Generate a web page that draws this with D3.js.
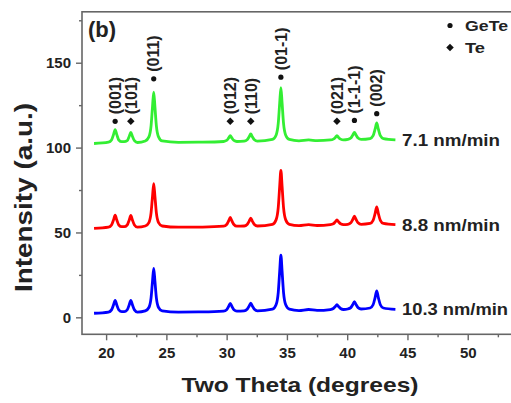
<!DOCTYPE html>
<html>
<head>
<meta charset="utf-8">
<script src="https://cdn.jsdelivr.net/npm/d3@7"></script>
<style>
  body { margin: 0; background: #fff; }
  text { font-family: "Liberation Sans", Arial, sans-serif; font-weight: bold; fill: #222; }
</style>
</head>
<body>
<svg id="chart" width="511" height="403"></svg>
<script>
// sampled 2-theta positions (shared by the three scans)
const twoTheta = [
  19.0, 20.2, 20.45, 20.62, 20.75, 20.88, 21.05, 21.3,
  21.5, 21.75, 21.92, 22.05, 22.18, 22.35, 22.6,
  23.25, 23.55, 23.73, 23.85, 23.95, 24.05, 24.17, 24.35, 24.65,
  26.0, 28.0,
  29.75, 30.0, 30.17, 30.3, 30.43, 30.6, 30.85,
  31.45, 31.7, 31.87, 32.0, 32.13, 32.3, 32.55,
  33.8, 34.1, 34.28, 34.4, 34.5, 34.6, 34.72, 34.9, 35.2,
  36.0, 36.8, 37.5,
  38.6, 38.85, 39.02, 39.15, 39.28, 39.45, 39.7,
  40.05, 40.3, 40.47, 40.6, 40.73, 40.9, 41.15,
  41.9, 42.15, 42.32, 42.45, 42.58, 42.75, 43.0,
  44.0
];

const rate71 = [
  102.4, 103.2, 104.5, 107.8, 110.6, 107.8, 104.5, 103.5,
  103.5, 104.1, 106.7, 109.0, 106.7, 104.1, 103.0,
  103.9, 106.3, 112.8, 124.1, 132.7, 124.1, 112.8, 106.3, 103.9,
  103.1, 103.2,
  103.6, 104.2, 105.7, 107.0, 105.7, 104.2, 103.6,
  103.8, 104.6, 106.4, 108.0, 106.4, 104.6, 103.8,
  104.8, 107.3, 114.2, 126.2, 135.3, 126.2, 114.2, 107.3, 104.8,
  104.0, 104.5, 104.1,
  104.5, 105.0, 106.0, 107.0, 106.0, 105.0, 104.5,
  104.8, 105.6, 107.4, 109.0, 107.4, 105.6, 104.8,
  105.3, 107.0, 111.0, 114.5, 111.0, 107.0, 105.3,
  104.6
];

const rate88 = [
  52.4, 53.1, 54.4, 57.5, 60.2, 57.5, 54.4, 53.4,
  53.4, 54.4, 57.4, 60.0, 57.4, 54.4, 53.1,
  53.8, 55.8, 61.5, 71.3, 78.8, 71.3, 61.5, 55.8, 53.8,
  53.1, 53.2,
  53.7, 54.7, 56.9, 58.8, 56.9, 54.7, 53.7,
  53.8, 54.7, 56.7, 58.4, 56.7, 54.7, 53.8,
  54.8, 57.4, 64.6, 77.1, 86.6, 77.1, 64.6, 57.4, 54.8,
  54.0, 54.6, 54.1,
  54.6, 55.1, 56.3, 57.4, 56.3, 55.1, 54.6,
  54.8, 55.7, 57.8, 59.6, 57.8, 55.7, 54.8,
  55.3, 57.1, 61.3, 65.0, 61.3, 57.1, 55.3,
  54.6
];

const rate103 = [
  2.4, 3.1, 4.4, 7.4, 10.0, 7.4, 4.4, 3.4,
  3.4, 4.4, 7.4, 10.0, 7.4, 4.4, 3.1,
  3.8, 5.8, 11.5, 21.3, 28.8, 21.3, 11.5, 5.8, 3.8,
  3.1, 3.2,
  3.7, 4.5, 6.5, 8.2, 6.5, 4.5, 3.7,
  3.8, 4.7, 6.7, 8.4, 6.7, 4.7, 3.8,
  4.8, 7.4, 14.6, 27.1, 36.6, 27.1, 14.6, 7.4, 4.8,
  4.0, 4.6, 4.1,
  4.6, 5.2, 6.4, 7.4, 6.4, 5.2, 4.6,
  4.9, 5.7, 7.6, 9.3, 7.6, 5.7, 4.9,
  5.5, 7.4, 11.8, 15.6, 11.8, 7.4, 5.5,
  4.7
];

const seriesNames = ['7.1 nm/min', '8.8 nm/min', '10.3 nm/min'];
const seriesValues = [rate71, rate88, rate103];
const seriesColors = ['#33ee33', '#ff0000', '#0000ff'];

// reflection labels over the top scan
const peakPos = [20.75, 22.05, 23.95, 30.3, 32.0, 34.5, 39.15, 40.6, 42.45];
const peakHkl = ['(001)', '(101)', '(011)', '(012)', '(110)', '(01-1)', '(021)', '(1-1-1)', '(002)'];
const peakPhase = ['GeTe', 'Te', 'GeTe', 'Te', 'Te', 'GeTe', 'Te', 'GeTe', 'GeTe'];
const peakMark = [115.5, 115.5, 140.5, 115.5, 115.5, 141.5, 115.5, 116, 120];

const phases = ['GeTe', 'Te'];

const xTicks = [20, 25, 30, 35, 40, 45, 50];
const xMinor = [22.5, 27.5, 32.5, 37.5, 42.5, 47.5, 52.5];
const yTicks = [0, 50, 100, 150];
const yMinor = [25, 75, 125, 175];

const svg = d3.select('#chart');
svg.append('rect').attr('width', 511).attr('height', 403).attr('fill', '#fff');

const x = d3.scaleLinear().domain([18, 55]).range([82, 528]);
const y = d3.scaleLinear().domain([-10, 180]).range([334.3, 11.8]);

const axisColor = '#666';

// frame (right side falls outside the picture)
svg.append('rect')
  .attr('x', x(18)).attr('y', y(180))
  .attr('width', x(55) - x(18)).attr('height', y(-10) - y(180))
  .attr('fill', 'none').attr('stroke', axisColor).attr('stroke-width', 1.6);

const styleAxis = g => {
  g.select('.domain').remove();
  g.selectAll('line').attr('stroke', axisColor).attr('stroke-width', 1.4);
  g.selectAll('text').attr('font-size', 15).attr('fill', '#222')
    .attr('font-family', '"Liberation Sans", Arial, sans-serif').attr('font-weight', 'bold');
};

svg.append('g').attr('transform', `translate(0,${y(-10)})`)
  .call(d3.axisBottom(x).tickValues(xTicks).tickSize(6).tickPadding(7))
  .call(styleAxis);
svg.append('g').attr('transform', `translate(0,${y(-10)})`)
  .call(d3.axisBottom(x).tickValues(xMinor).tickSize(3).tickFormat(''))
  .call(styleAxis);

svg.append('g').attr('transform', `translate(${x(18)},0)`)
  .call(d3.axisLeft(y).tickValues(yTicks).tickSize(6).tickPadding(5))
  .call(styleAxis);
svg.append('g').attr('transform', `translate(${x(18)},0)`)
  .call(d3.axisLeft(y).tickValues(yMinor).tickSize(3).tickFormat(''))
  .call(styleAxis);

// traces
const line = d3.line()
  .x((d, i) => x(twoTheta[i]))
  .y(d => y(d))
  .curve(d3.curveMonotoneX);

svg.append('g').selectAll('path')
  .data(seriesValues)
  .enter()
  .append('path')
  .attr('d', d => line(d))
  .attr('fill', 'none')
  .attr('stroke', (d, i) => seriesColors[i])
  .attr('stroke-width', 2.8)
  .attr('stroke-linejoin', 'round');

svg.append('g').selectAll('text')
  .data(seriesNames)
  .enter()
  .append('text')
  .attr('x', x(44.55))
  .attr('y', (d, i) => y(seriesValues[i][seriesValues[i].length - 1]))
  .attr('dy', '0.36em')
  .attr('font-size', 17)
  .attr('textLength', (d, i) => i === 2 ? 106 : 98)
  .attr('lengthAdjust', 'spacingAndGlyphs')
  .text(d => d);

// phase markers
const marker = (sel, phase) => {
  if (phase === 'GeTe') {
    sel.append('circle').attr('r', 2.6).attr('fill', '#111');
  } else {
    sel.append('path')
      .attr('d', d3.symbol(d3.symbolSquare, 28)())
      .attr('transform', 'rotate(45)')
      .attr('fill', '#111');
  }
};

const annos = svg.append('g').selectAll('g')
  .data(peakHkl)
  .enter()
  .append('g')
  .attr('transform', (d, i) => `translate(${x(peakPos[i])},${y(peakMark[i])})`);

annos.each(function(d, i) { marker(d3.select(this), peakPhase[i]); });

annos.append('text')
  .attr('transform', 'translate(0,-7) rotate(-90)')
  .attr('dy', '0.36em')
  .attr('font-size', 16)
  .text(d => d);

// legend
const legend = svg.append('g').selectAll('g')
  .data(phases)
  .enter()
  .append('g')
  .attr('transform', (d, i) => `translate(450,${25.5 + i * 22})`);

legend.each(function(d) { marker(d3.select(this), d); });

legend.append('text')
  .attr('x', 15)
  .attr('dy', '0.36em')
  .attr('font-size', 15)
  .attr('textLength', d => d === 'GeTe' ? 43 : 20)
  .attr('lengthAdjust', 'spacingAndGlyphs')
  .text(d => d);

// panel tag and axis titles
svg.append('text')
  .attr('x', 88).attr('y', 37)
  .attr('font-size', 22)
  .text('(b)');

svg.append('text')
  .attr('x', 300).attr('y', 392)
  .attr('text-anchor', 'middle')
  .attr('font-size', 21)
  .attr('textLength', 237)
  .attr('lengthAdjust', 'spacingAndGlyphs')
  .text('Two Theta (degrees)');

svg.append('text')
  .attr('transform', 'translate(32,197.5) rotate(-90)')
  .attr('text-anchor', 'middle')
  .attr('font-size', 24)
  .attr('textLength', 189)
  .attr('lengthAdjust', 'spacingAndGlyphs')
  .text('Intensity (a.u.)');
</script>
</body>
</html>
